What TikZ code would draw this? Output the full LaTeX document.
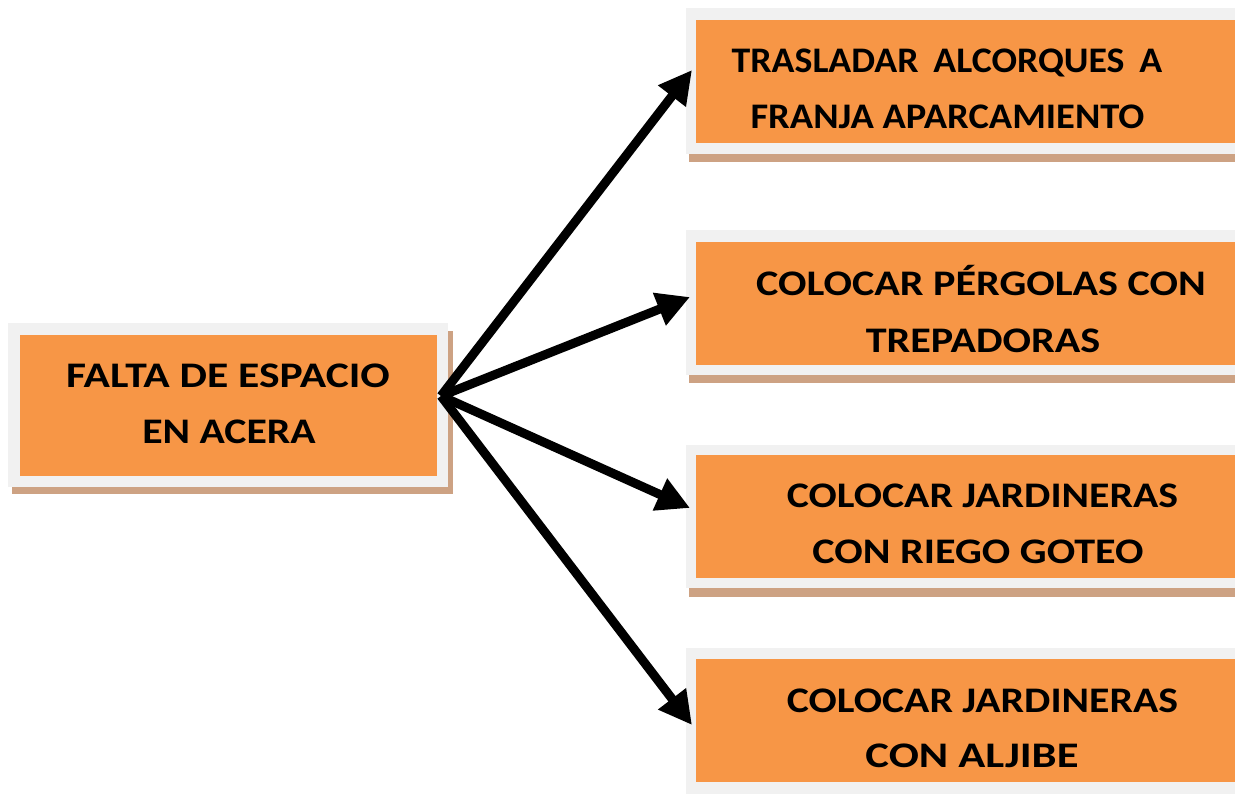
\documentclass[tikz,border=0pt]{standalone}
\usepackage{fontspec}
\usepackage{graphicx}
\setmainfont{Carlito}
\usetikzlibrary{arrows.meta}
\definecolor{boxorange}{HTML}{F79646}
\definecolor{framegrey}{HTML}{F1F1F1}
\definecolor{shadowtan}{HTML}{CDA283}
\newcommand{\widen}[2]{\scalebox{#1}[1]{#2}}
\tikzset{
  framebox/.style={fill=framegrey, draw=none, inner sep=0pt, anchor=north west},
  shadowbox/.style={fill=shadowtan, draw=none, inner sep=0pt, anchor=north west},
  orangebox/.style={fill=boxorange, draw=none, inner sep=0pt, anchor=north west},
  lbl/.style={font=\bfseries\fontsize{36}{56}\selectfont, anchor=base, inner sep=0pt, text=black},
  arr/.style={line width=9pt, -{Triangle[length=33pt,width=33pt]}, draw=black}
}
\begin{document}
\begin{tikzpicture}[x=1pt,y=-1pt]
\useasboundingbox (0,0) rectangle (1235,793);
\clip (0,0) rectangle (1235,793);
% left box
\node[shadowbox, minimum width=441pt, minimum height=163pt] (Ls) at (12,331) {};
\node[framebox, minimum width=440pt, minimum height=164pt] (Lf) at (8,323) {};
\node[orangebox, minimum width=417pt, minimum height=141pt] (L) at (20,335) {};
\node[lbl] (L1) at (228,387) {\widen{1.21}{FALTA DE ESPACIO}};
\node[lbl] (L2) at (229,443) {\widen{1.16}{EN ACERA}};
% right box 1
\node[shadowbox, minimum width=560pt, minimum height=142pt] (B1s) at (689,20) {};
\node[framebox, minimum width=560pt, minimum height=146pt] (B1f) at (686,8) {};
\node[orangebox, minimum width=550pt, minimum height=123pt] (B1) at (696,20) {};
\node[lbl] (B1a) at (947,72) {\widen{1.05}{TRASLADAR\ \,ALCORQUES\ \,A}};
\node[lbl] (B1b) at (947.5,128) {\widen{1.07}{FRANJA APARCAMIENTO}};
% right box 2
\node[shadowbox, minimum width=560pt, minimum height=141pt] (B2s) at (689,242) {};
\node[framebox, minimum width=560pt, minimum height=145pt] (B2f) at (686,230) {};
\node[orangebox, minimum width=550pt, minimum height=123pt] (B2) at (696,242) {};
\node[lbl] (B2a) at (981,295) {\widen{1.17}{COLOCAR PÉRGOLAS CON}};
\node[lbl] (B2b) at (983,352) {\widen{1.17}{TREPADORAS}};
% right box 3
\node[shadowbox, minimum width=560pt, minimum height=142pt] (B3s) at (689,455) {};
\node[framebox, minimum width=560pt, minimum height=143pt] (B3f) at (686,445) {};
\node[orangebox, minimum width=550pt, minimum height=123pt] (B3) at (696,455) {};
\node[lbl] (B3a) at (982.5,507) {\widen{1.16}{COLOCAR JARDINERAS}};
\node[lbl] (B3b) at (978,563) {\widen{1.17}{CON RIEGO GOTEO}};
% right box 4
\node[shadowbox, minimum width=560pt, minimum height=160pt] (B4s) at (689,659) {};
\node[framebox, minimum width=560pt, minimum height=150pt] (B4f) at (686,648) {};
\node[orangebox, minimum width=550pt, minimum height=123pt] (B4) at (696,659) {};
\node[lbl] (B4a) at (982.5,712) {\widen{1.16}{COLOCAR JARDINERAS}};
\node[lbl] (B4b) at (972,767) {\widen{1.24}{CON ALJIBE}};
% connectors
\coordinate (hub) at (441,396);
\coordinate (t1) at (692,70);
\coordinate (t2) at (690,297);
\coordinate (t3) at (690,508);
\coordinate (t4) at (692,725);
\draw[arr] (hub) -- (t1);
\draw[arr] (hub) -- (t2);
\draw[arr] (hub) -- (t3);
\draw[arr] (hub) -- (t4);
\end{tikzpicture}
\end{document}
